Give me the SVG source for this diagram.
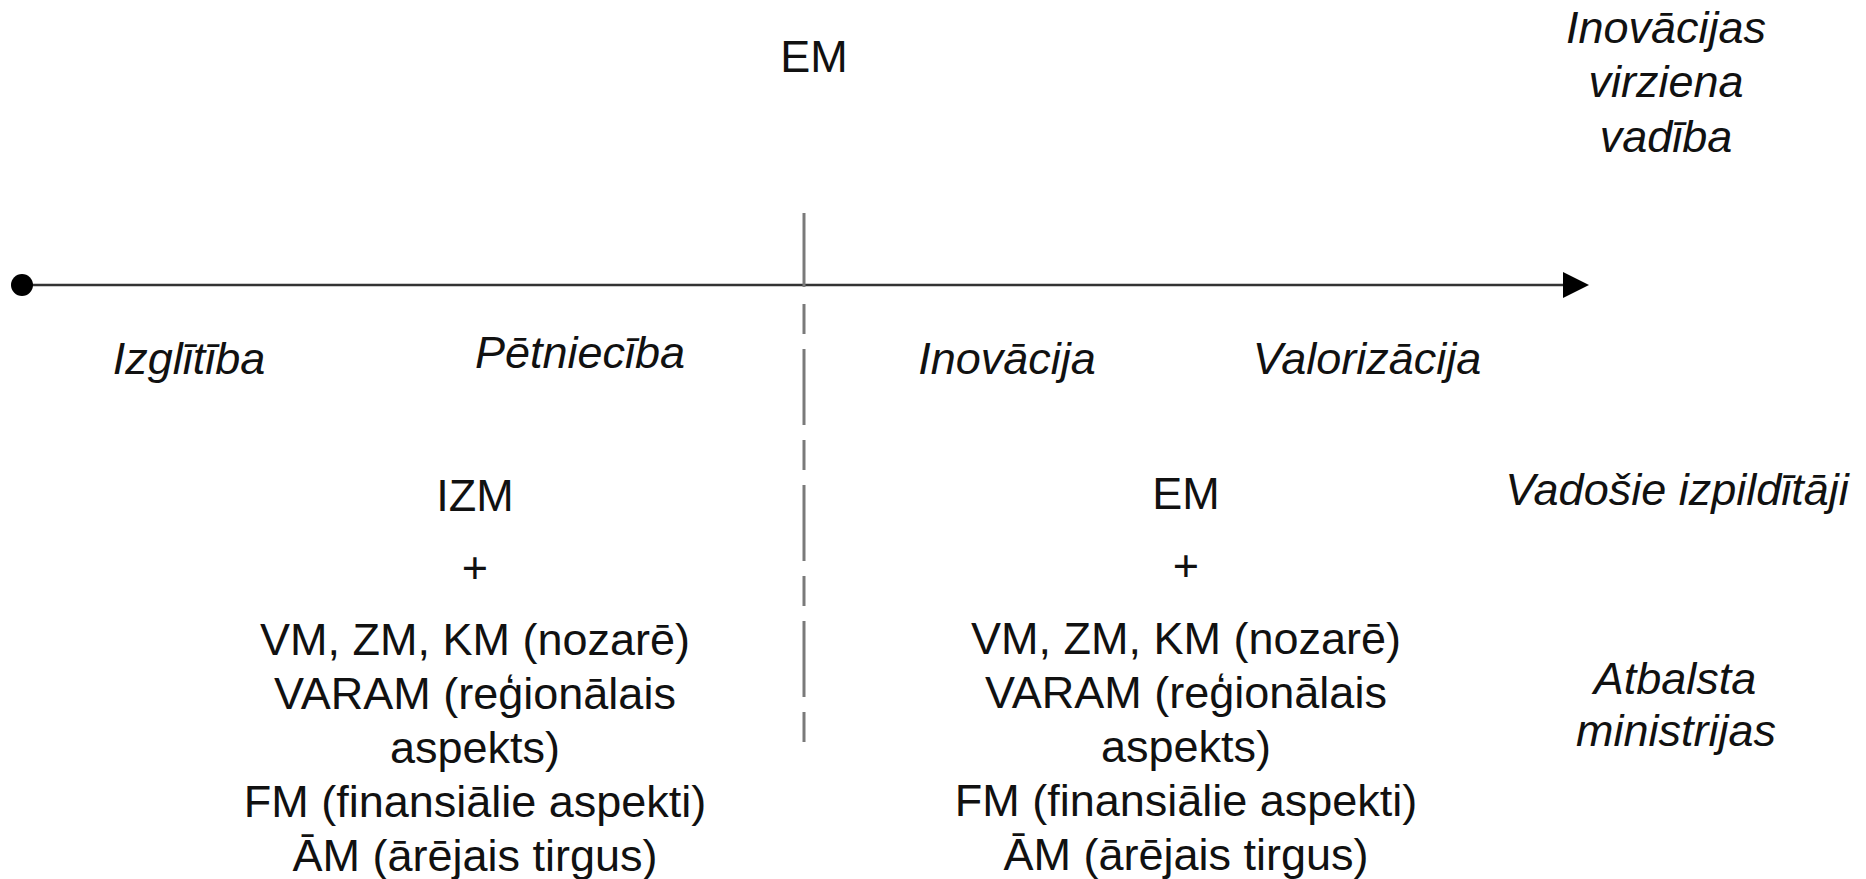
<svg xmlns="http://www.w3.org/2000/svg" width="1866" height="879" viewBox="0 0 1866 879">
<defs>
<style>
text{font-family:"Liberation Sans",Arial,sans-serif;font-size:45px;fill:#111;text-anchor:middle}
.it{font-style:italic}
.axis{stroke:#333;stroke-width:2.5;fill:none}
.div{stroke:#7a7a7a;stroke-width:3;fill:none}
</style>
<marker id="arr" markerUnits="userSpaceOnUse" markerWidth="26" markerHeight="26" viewBox="0 0 24 24" refX="0" refY="12" orient="auto">
<path d="M0,0 L24,12 L0,24 Z" fill="#000"/>
</marker>
</defs>
<rect width="1866" height="879" fill="#fff"/>
<g id="connectors">
<line class="axis" x1="22" y1="285" x2="1563" y2="285" marker-end="url(#arr)"/>
<circle cx="22" cy="285" r="11" fill="#000"/>
<line class="div" x1="804" y1="213" x2="804" y2="287"/>
<line class="div" x1="804" y1="304" x2="804" y2="742" stroke-dasharray="30 15 76 15"/>
</g>
<g id="top-em"><text x="814" y="72">EM</text></g>
<g id="direction-label">
<text class="it" x="1666" y="43">Inovācijas</text>
<text class="it" x="1666" y="97">virziena</text>
<text class="it" x="1666" y="152">vadība</text>
</g>
<g id="stage-izglitiba"><text class="it" x="189" y="374">Izglītība</text></g>
<g id="stage-petnieciba"><text class="it" x="580" y="368">Pētniecība</text></g>
<g id="stage-inovacija"><text class="it" x="1007" y="374">Inovācija</text></g>
<g id="stage-valorizacija"><text class="it" x="1367" y="374">Valorizācija</text></g>
<g id="left-block">
<text x="475" y="511">IZM</text>
<text x="475" y="583">+</text>
<text x="475" y="655">VM, ZM, KM (nozarē)</text>
<text x="475" y="709">VARAM (reģionālais</text>
<text x="475" y="763">aspekts)</text>
<text x="475" y="817">FM (finansiālie aspekti)</text>
<text x="475" y="871">ĀM (ārējais tirgus)</text>
</g>
<g id="right-block">
<text x="1186" y="509">EM</text>
<text x="1186" y="581">+</text>
<text x="1186" y="654">VM, ZM, KM (nozarē)</text>
<text x="1186" y="708">VARAM (reģionālais</text>
<text x="1186" y="762">aspekts)</text>
<text x="1186" y="816">FM (finansiālie aspekti)</text>
<text x="1186" y="870">ĀM (ārējais tirgus)</text>
</g>
<g id="lead-label"><text class="it" x="1677" y="505">Vadošie izpildītāji</text></g>
<g id="support-label">
<text class="it" x="1675" y="694">Atbalsta</text>
<text class="it" x="1676" y="746">ministrijas</text>
</g>
</svg>
